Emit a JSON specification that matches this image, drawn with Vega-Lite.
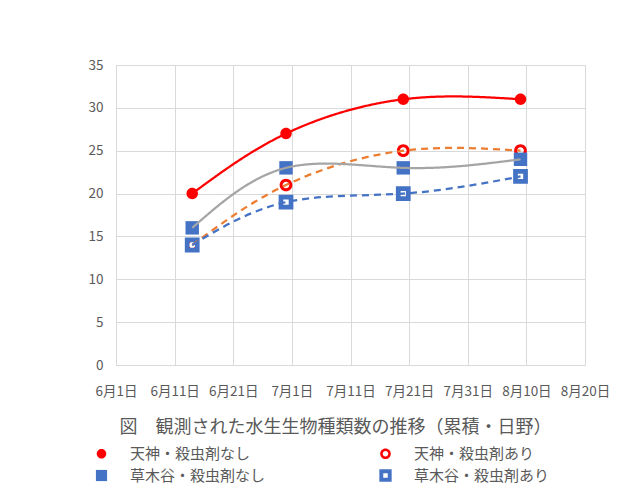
{
  "$schema": "https://vega.github.io/schema/vega-lite/v6.json",
  "width": 469,
  "height": 300,
  "autosize": "none",
  "padding": {"left": 116, "top": 65, "right": 41, "bottom": 128},
  "background": "white",
  "config": {
    "font": "Noto Sans CJK JP",
    "view": {"stroke": "#D9D9D9", "strokeWidth": 1},
    "axis": {
      "labelColor": "#595959",
      "titleColor": "#595959",
      "gridColor": "#D9D9D9",
      "gridWidth": 1,
      "domain": false,
      "ticks": false,
      "tickSize": 0,
      "labelFontSize": 13.5,
      "titleFontWeight": "normal"
    }
  },
  "data": {
    "values": [
      {"series": "天神・殺虫剤なし", "date": "2019-06-14", "count": 20},
      {"series": "天神・殺虫剤なし", "date": "2019-06-30", "count": 27},
      {"series": "天神・殺虫剤なし", "date": "2019-07-20", "count": 31},
      {"series": "天神・殺虫剤なし", "date": "2019-08-09", "count": 31},
      {"series": "天神・殺虫剤あり", "date": "2019-06-14", "count": 14},
      {"series": "天神・殺虫剤あり", "date": "2019-06-30", "count": 21},
      {"series": "天神・殺虫剤あり", "date": "2019-07-20", "count": 25},
      {"series": "天神・殺虫剤あり", "date": "2019-08-09", "count": 25},
      {"series": "草木谷・殺虫剤なし", "date": "2019-06-14", "count": 16},
      {"series": "草木谷・殺虫剤なし", "date": "2019-06-30", "count": 23},
      {"series": "草木谷・殺虫剤なし", "date": "2019-07-20", "count": 23},
      {"series": "草木谷・殺虫剤なし", "date": "2019-08-09", "count": 24},
      {"series": "草木谷・殺虫剤あり", "date": "2019-06-14", "count": 14},
      {"series": "草木谷・殺虫剤あり", "date": "2019-06-30", "count": 19},
      {"series": "草木谷・殺虫剤あり", "date": "2019-07-20", "count": 20},
      {"series": "草木谷・殺虫剤あり", "date": "2019-08-09", "count": 22}
    ]
  },
  "encoding": {
    "x": {
      "field": "date",
      "type": "temporal",
      "scale": {
        "type": "utc",
        "domain": [
          {"year": 2019, "month": 6, "date": 1, "utc": true},
          {"year": 2019, "month": 8, "date": 20, "utc": true}
        ]
      },
      "axis": {
        "values": [
          {"year": 2019, "month": 6, "date": 1, "utc": true},
          {"year": 2019, "month": 6, "date": 11, "utc": true},
          {"year": 2019, "month": 6, "date": 21, "utc": true},
          {"year": 2019, "month": 7, "date": 1, "utc": true},
          {"year": 2019, "month": 7, "date": 11, "utc": true},
          {"year": 2019, "month": 7, "date": 21, "utc": true},
          {"year": 2019, "month": 7, "date": 31, "utc": true},
          {"year": 2019, "month": 8, "date": 10, "utc": true},
          {"year": 2019, "month": 8, "date": 20, "utc": true}
        ],
        "format": "%-m月%-d日",
        "labelPadding": 19,
        "labelFlush": false,
        "labelOverlap": false,
        "title": "図　観測された水生生物種類数の推移（累積・日野）",
        "titleFontSize": 18,
        "titlePadding": 21,
        "titleX": 219
      }
    },
    "y": {
      "field": "count",
      "type": "quantitative",
      "scale": {"domain": [0, 35], "nice": false, "zero": true},
      "axis": {
        "values": [0, 5, 10, 15, 20, 25, 30, 35],
        "labelPadding": 13,
        "title": null
      }
    }
  },
  "layer": [
    {
      "mark": {"type": "point", "filled": true, "opacity": 1, "size": 180, "strokeWidth": 0},
      "encoding": {
        "shape": {
          "field": "series",
          "type": "nominal",
          "scale": {
            "domain": ["天神・殺虫剤なし", "天神・殺虫剤あり", "草木谷・殺虫剤なし", "草木谷・殺虫剤あり"],
            "range": [
              "M-0.85,0A0.85,0.85 0 1,0 0.85,0A0.85,0.85 0 1,0 -0.85,0Z",
              "M-0.95,0A0.95,0.95 0 1,0 0.95,0A0.95,0.95 0 1,0 -0.95,0Z M-0.5,0A0.5,0.5 0 1,1 0.5,0A0.5,0.5 0 1,1 -0.5,0Z",
              "square",
              "M-1.1,-1.1H1.1V1.1H-1.1Z M-0.4,-0.4V0.4H0.4V-0.4Z"
            ]
          },
          "legend": {
            "title": null,
            "orient": "none",
            "direction": "horizontal",
            "legendX": -22,
            "legendY": 381,
            "columns": 2,
            "columnPadding": 112,
            "rowPadding": 6,
            "labelFontSize": 15,
            "labelColor": "#595959",
            "labelOffset": 21,
            "labelLimit": 300,
            "symbolSize": 125,
            "symbolStrokeWidth": 0
          }
        },
        "color": {
          "field": "series",
          "type": "nominal",
          "scale": {
            "domain": ["天神・殺虫剤なし", "天神・殺虫剤あり", "草木谷・殺虫剤なし", "草木谷・殺虫剤あり"],
            "range": ["#FF0000", "#FF0000", "#4472C4", "#4472C4"]
          },
          "legend": {
            "title": null,
            "orient": "none",
            "direction": "horizontal",
            "legendX": -22,
            "legendY": 381,
            "columns": 2,
            "columnPadding": 112,
            "rowPadding": 6,
            "labelFontSize": 15,
            "labelColor": "#595959",
            "labelOffset": 21,
            "labelLimit": 300,
            "symbolSize": 125,
            "symbolStrokeWidth": 0
          }
        }
      }
    },
    {
      "mark": {"type": "line", "interpolate": "natural", "strokeWidth": 2.25},
      "encoding": {
        "stroke": {
          "field": "series",
          "type": "nominal",
          "scale": {
            "domain": ["天神・殺虫剤なし", "天神・殺虫剤あり", "草木谷・殺虫剤なし", "草木谷・殺虫剤あり"],
            "range": ["#FF0000", "#ED7D31", "#A5A5A5", "#4472C4"]
          },
          "legend": null
        },
        "strokeDash": {
          "field": "series",
          "type": "nominal",
          "scale": {
            "domain": ["天神・殺虫剤なし", "天神・殺虫剤あり", "草木谷・殺虫剤なし", "草木谷・殺虫剤あり"],
            "range": [[1, 0], [7, 5], [1, 0], [7, 5]]
          },
          "legend": null
        }
      }
    }
  ]
}
